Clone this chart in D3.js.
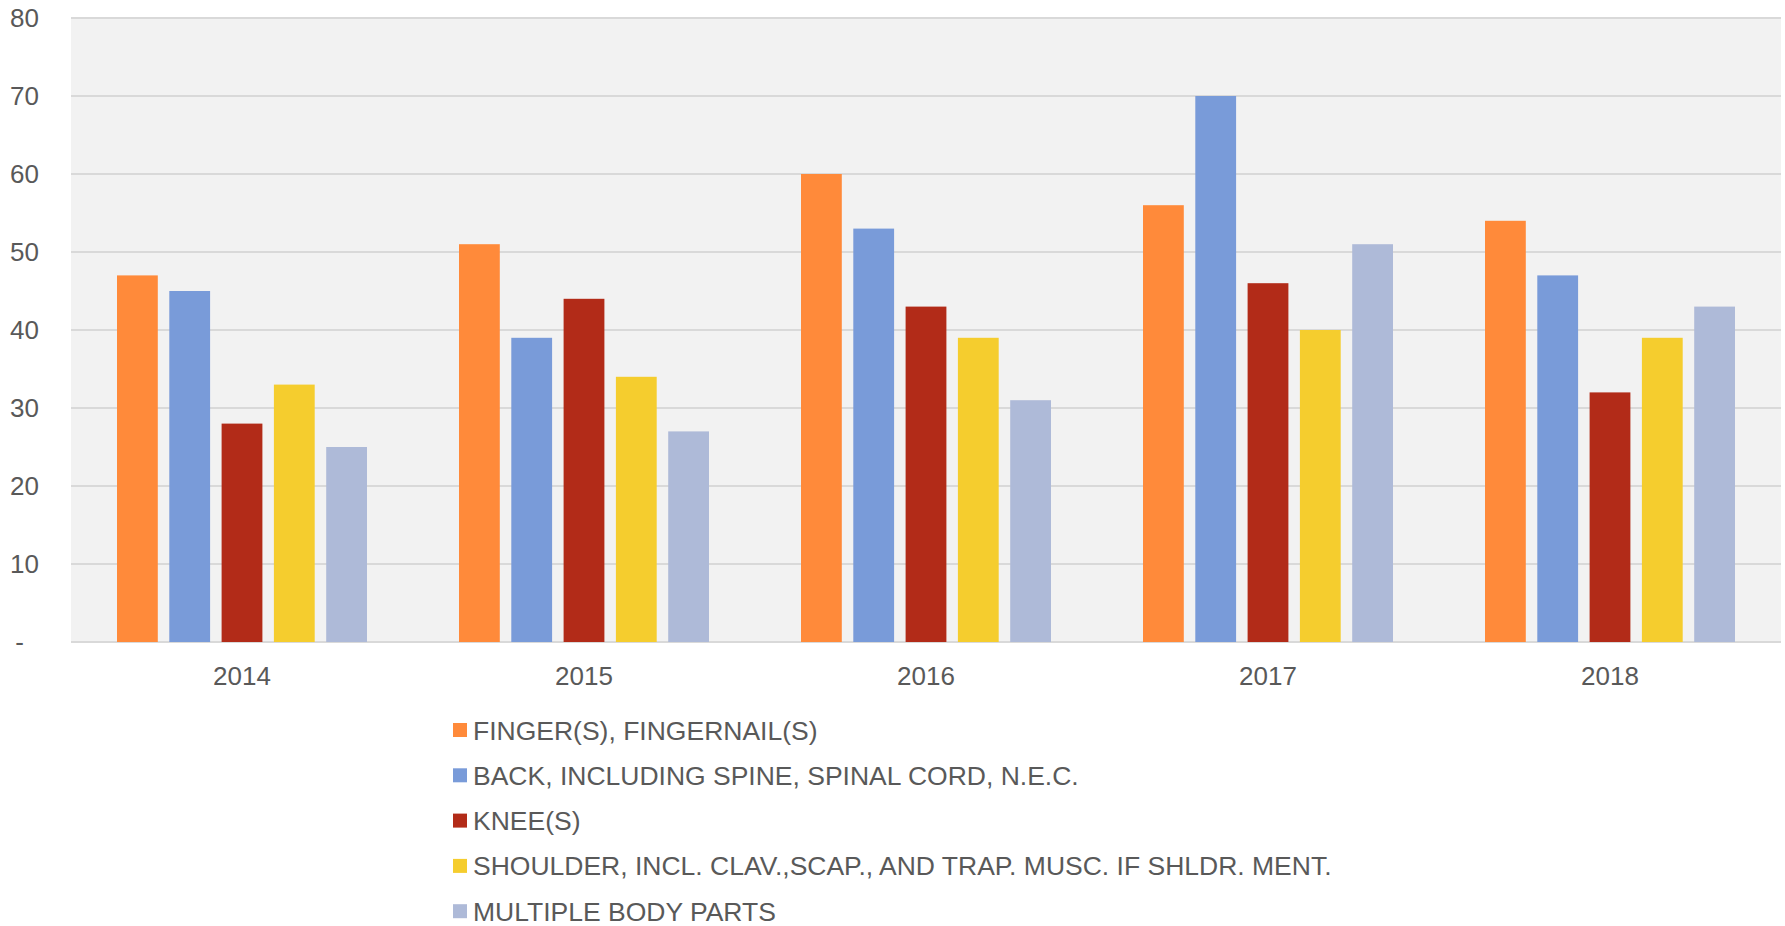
<!DOCTYPE html>
<html lang="en">
  <head>
    <meta charset="UTF-8" />
    <title>Injuries by body part</title>
    <script src="https://d3js.org/d3.v7.min.js"></script>
    <style>
      * {
        margin: 0;
        padding: 0;
      }
      body {
        background: #fff;
      }
      text {
        font-family: "Liberation Sans", Arial, sans-serif;
        fill: #595959;
      }
    </style>
  </head>
  <body>
    <script>
      // data
      const years = ["2014", "2015", "2016", "2017", "2018"];
      const seriesNames = [
        "FINGER(S), FINGERNAIL(S)",
        "BACK, INCLUDING SPINE, SPINAL CORD, N.E.C.",
        "KNEE(S)",
        "SHOULDER, INCL. CLAV.,SCAP., AND TRAP. MUSC. IF SHLDR. MENT.",
        "MULTIPLE BODY PARTS",
      ];
      const finger = [47, 51, 60, 56, 54];
      const back = [45, 39, 53, 70, 47];
      const knee = [28, 44, 43, 46, 32];
      const shoulder = [33, 34, 39, 40, 39];
      const multiple = [25, 27, 31, 51, 43];
      const yTicks = [0, 10, 20, 30, 40, 50, 60, 70, 80];

      const colors = ["#ff8a3a", "#799bd9", "#b22b18", "#f5cd2e", "#aebad8"];
      const allSeries = [finger, back, knee, shoulder, multiple];

      let w = 1785;
      let h = 926;
      let plotLeft = 71,
        plotRight = 1781,
        plotTop = 18,
        plotBottom = 642;

      let svg = d3
        .select("body")
        .append("svg")
        .attr("width", w)
        .attr("height", h);

      let x0 = d3.scaleBand().domain(years).range([plotLeft, plotRight]);
      let x1 = d3
        .scaleBand()
        .domain(d3.range(seriesNames.length))
        .range([46, x0.bandwidth() - 46])
        .paddingInner(0.22);
      let y = d3.scaleLinear().domain([0, 80]).range([plotBottom, plotTop]);

      // plot background
      svg
        .append("rect")
        .attr("x", plotLeft)
        .attr("y", plotTop)
        .attr("width", plotRight - plotLeft)
        .attr("height", plotBottom - plotTop)
        .attr("fill", "#f2f2f2");

      // gridlines
      svg
        .append("g")
        .selectAll("line")
        .data(yTicks)
        .enter()
        .append("line")
        .attr("x1", plotLeft)
        .attr("x2", plotRight)
        .attr("y1", (d) => y(d))
        .attr("y2", (d) => y(d))
        .attr("stroke", "#d9d9d9")
        .attr("stroke-width", 2);

      // y axis labels
      let yAxis = svg
        .append("g")
        .attr("transform", "translate(" + 39 + ",0)")
        .call(
          d3
            .axisLeft(y)
            .tickValues(yTicks)
            .tickSize(0)
            .tickPadding(0)
            .tickFormat((d) => (d === 0 ? "-" : d))
        );
      yAxis.select(".domain").remove();
      yAxis
        .selectAll("text")
        .style("font-size", "26px")
        .attr("fill", "#595959")
        .attr("dx", (d) => (d === 0 ? -15 : 0));

      // bars
      let groups = svg
        .append("g")
        .selectAll("g")
        .data(years)
        .enter()
        .append("g")
        .attr("transform", (d) => "translate(" + x0(d) + ",0)");

      groups
        .selectAll("rect")
        .data((d, i) => allSeries.map((s, k) => ({ k: k, v: s[i] })))
        .enter()
        .append("rect")
        .attr("x", (d) => x1(d.k))
        .attr("width", x1.bandwidth())
        .attr("y", (d) => y(d.v))
        .attr("height", (d) => y(0) - y(d.v))
        .attr("fill", (d) => colors[d.k]);

      // x axis labels
      let xAxis = svg
        .append("g")
        .attr("transform", "translate(0," + plotBottom + ")")
        .call(d3.axisBottom(x0).tickSize(0).tickPadding(25));
      xAxis.select(".domain").remove();
      xAxis
        .selectAll("text")
        .style("font-size", "26px")
        .attr("fill", "#595959");

      // legend
      let legend = svg
        .append("g")
        .selectAll("g")
        .data(seriesNames)
        .enter()
        .append("g")
        .attr("transform", (d, i) => "translate(453," + (730 + i * 45.3) + ")");

      legend
        .append("rect")
        .attr("x", 0)
        .attr("y", -7)
        .attr("width", 14)
        .attr("height", 14)
        .attr("fill", (d, i) => colors[i]);

      legend
        .append("text")
        .attr("x", 20)
        .attr("y", 0)
        .attr("dy", "0.36em")
        .style("font-size", "26.5px")
        .text((d) => d);
    </script>
  </body>
</html>
